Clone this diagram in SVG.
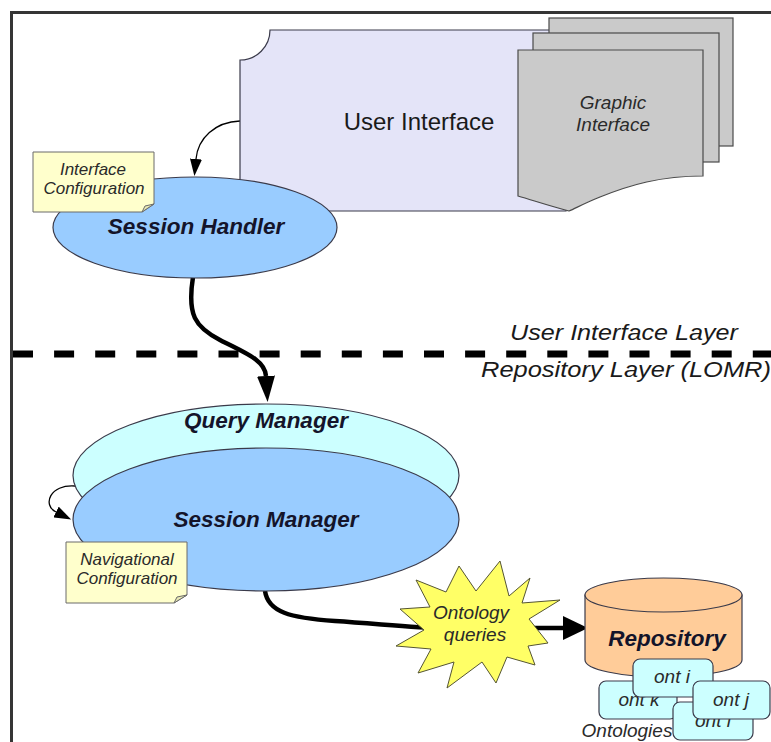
<svg xmlns="http://www.w3.org/2000/svg" width="771" height="742" viewBox="0 0 771 742">
  <style>
    .frame { stroke: #353535; stroke-width: 3; fill: none; }
    .layer-line { stroke: #000; stroke-width: 7; stroke-dasharray: 20 21.1; fill: none; }
    .layer-label { font-family: "Liberation Sans", Arial, sans-serif; font-style: italic; font-size: 22px; fill: #1a1a1a; }
    .edge { fill: none; stroke: #000; }
    .thin { stroke-width: 1.3; }
    .thick { stroke-width: 4.5; }
    .outline { stroke: #3a3a4a; stroke-width: 1.2; }
    .ellipse-blue { fill: #99ccff; }
    .ellipse-cyan { fill: #ccffff; }
    .note { fill: #ffffcc; stroke: #6a6a6a; stroke-width: 1; }
    .fold { fill: #e8e8b4; stroke: #6a6a6a; stroke-width: 1; }
    .page { fill: #cacaca; stroke: #4a4a4a; stroke-width: 1.2; }
    .ont { fill: #ccffff; stroke: #3a3a4a; stroke-width: 1.2; }
    .bold-label { font-family: "Liberation Sans", Arial, sans-serif; font-weight: bold; font-style: italic; font-size: 22.5px; fill: #14142a; text-anchor: middle; }
    .note-text { font-family: "Liberation Sans", Arial, sans-serif; font-style: italic; font-size: 17px; fill: #2a2a2a; text-anchor: middle; }
    .small-italic { font-family: "Liberation Sans", Arial, sans-serif; font-style: italic; font-size: 19px; fill: #2a2a2a; text-anchor: middle; }
  </style>
  <defs>
    <marker id="head-thin" markerUnits="userSpaceOnUse" markerWidth="18" markerHeight="12" refX="0" refY="6" orient="auto">
      <path d="M0,0 L17,6 L0,12 Z" fill="#000"/>
    </marker>
    <marker id="head-thick" markerUnits="userSpaceOnUse" markerWidth="27" markerHeight="22" refX="0" refY="11" orient="auto">
      <path d="M0,2 L26,11 L0,20 Z" fill="#000"/>
    </marker>
    <marker id="head-wide" markerUnits="userSpaceOnUse" markerWidth="26" markerHeight="24" refX="0" refY="12" orient="auto">
      <path d="M0,0 L25,12 L0,24 Z" fill="#000"/>
    </marker>
  </defs>

  <rect width="771" height="742" fill="#fff"/>

  <!-- page frame (top and left rules) -->
  <path class="frame" d="M11.5,742 V12.5 H771"/>

  <!-- layer separator -->
  <line class="layer-line" x1="13" y1="354" x2="771" y2="354"/>
  <text class="layer-label" x="510" y="340" textLength="228" lengthAdjust="spacingAndGlyphs">User Interface Layer</text>
  <text class="layer-label" x="481" y="377" textLength="290" lengthAdjust="spacingAndGlyphs">Repository Layer (LOMR)</text>

  <!-- connectors -->
  <g id="connectors">
    <path class="edge thin" d="M240,121 C215,122 198,138 196,159" marker-end="url(#head-thin)"/>
    <path class="edge thick" d="M193,277 C187,315 195,327 220,340 C245,353 265,360 266,376" marker-end="url(#head-thick)"/>
    <path class="edge thin" d="M75,486 C50,484 42,505 56,512" marker-end="url(#head-thin)"/>
    <path class="edge thick" d="M265,591 C268,612 290,618 335,621 C380,624 420,628 440,628 L563,628" marker-end="url(#head-wide)"/>
  </g>

  <!-- user interface with stacked graphic pages -->
  <g id="user-interface">
    <path d="M240,60 A30,30 0 0 0 270,30 H566 V211 H240 Z" fill="#e4e4f8" stroke="#3a3a4a" stroke-width="1.2"/>
    <text x="419" y="130" font-family="Liberation Sans, Arial, sans-serif" font-size="24" fill="#1a1a1a" text-anchor="middle">User Interface</text>
  </g>
  <g id="graphic-interface">
    <rect class="page" x="549" y="18" width="184" height="128"/>
    <rect class="page" x="533" y="33" width="186" height="129"/>
    <path class="page" d="M518,50 H703 V176 C660,176 630,185 600,197 C585,203 576,208 569,211 C550,206 535,201 518,196 Z"/>
    <text class="small-italic" x="613" y="109" fill="#333">Graphic</text>
    <text class="small-italic" x="613" y="131" fill="#333">Interface</text>
  </g>

  <!-- session handler -->
  <g id="session-handler">
    <ellipse class="ellipse-blue outline" cx="195" cy="227.5" rx="142" ry="50.5"/>
    <text class="bold-label" x="196" y="234">Session Handler</text>
  </g>
  <g id="interface-configuration">
    <path class="note" d="M33,152 H154 V204 L142,212 H33 Z"/>
    <path class="fold" d="M142,212 L145,206 L154,204 Z"/>
    <text class="note-text" x="93" y="175">Interface</text>
    <text class="note-text" x="94" y="194">Configuration</text>
  </g>

  <!-- query / session managers -->
  <g id="query-manager">
    <ellipse class="ellipse-cyan outline" cx="266" cy="475.5" rx="193" ry="71.5"/>
    <text class="bold-label" x="266" y="428">Query Manager</text>
  </g>
  <g id="session-manager">
    <ellipse class="ellipse-blue outline" cx="266" cy="519.5" rx="193" ry="71.5"/>
    <text class="bold-label" x="266" y="527">Session Manager</text>
  </g>
  <g id="navigational-configuration">
    <path class="note" d="M66,542 H187 V595 L174,603 H66 Z"/>
    <path class="fold" d="M174,603 L177,597 L187,595 Z"/>
    <text class="note-text" x="127" y="565">Navigational</text>
    <text class="note-text" x="127" y="584">Configuration</text>
  </g>

  <!-- ontology queries burst -->
  <g id="ontology-queries">
    <polygon points="500,561 509,596 530,578 522,603 560,600 529,619 548,643 528,646 535,665 507,657 496,683 482,662 447,688 454,662 418,673 431,649 396,646 424,630 400,609 430,607 416,580 446,592 459,566 476,591" fill="#ffff66" stroke="#555533" stroke-width="1"/>
    <text class="small-italic" x="471" y="619" font-size="19">Ontology</text>
    <text class="small-italic" x="475" y="641" font-size="19">queries</text>
  </g>

  <!-- repository cylinder -->
  <g id="repository">
    <path d="M585,595 V660 A78.5,17 0 0 0 742,660 V595 Z" fill="#ffcc99" stroke="#3a3a4a" stroke-width="1.2"/>
    <ellipse cx="663.5" cy="595" rx="78.5" ry="17" fill="#ffcc99" stroke="#3a3a4a" stroke-width="1.2"/>
    <text class="bold-label" x="667" y="646" font-size="27">Repository</text>
  </g>

  <!-- ontologies held in the repository -->
  <g id="ont-k">
    <rect class="ont" x="599" y="681" width="78" height="38" rx="7"/>
    <text class="small-italic" x="639" y="706">ont k</text>
  </g>
  <g id="ont-l">
    <rect class="ont" x="673" y="702" width="80" height="38" rx="7"/>
    <text class="small-italic" x="713" y="727">ont l</text>
  </g>
  <g id="ont-i">
    <rect class="ont" x="633" y="659" width="80" height="38" rx="7"/>
    <text class="small-italic" x="672" y="683">ont i</text>
  </g>
  <g id="ont-j">
    <rect class="ont" x="693" y="681" width="77" height="38" rx="7"/>
    <text class="small-italic" x="731" y="706">ont j</text>
  </g>
  <text class="small-italic" x="627" y="737" font-size="17">Ontologies</text>
</svg>
